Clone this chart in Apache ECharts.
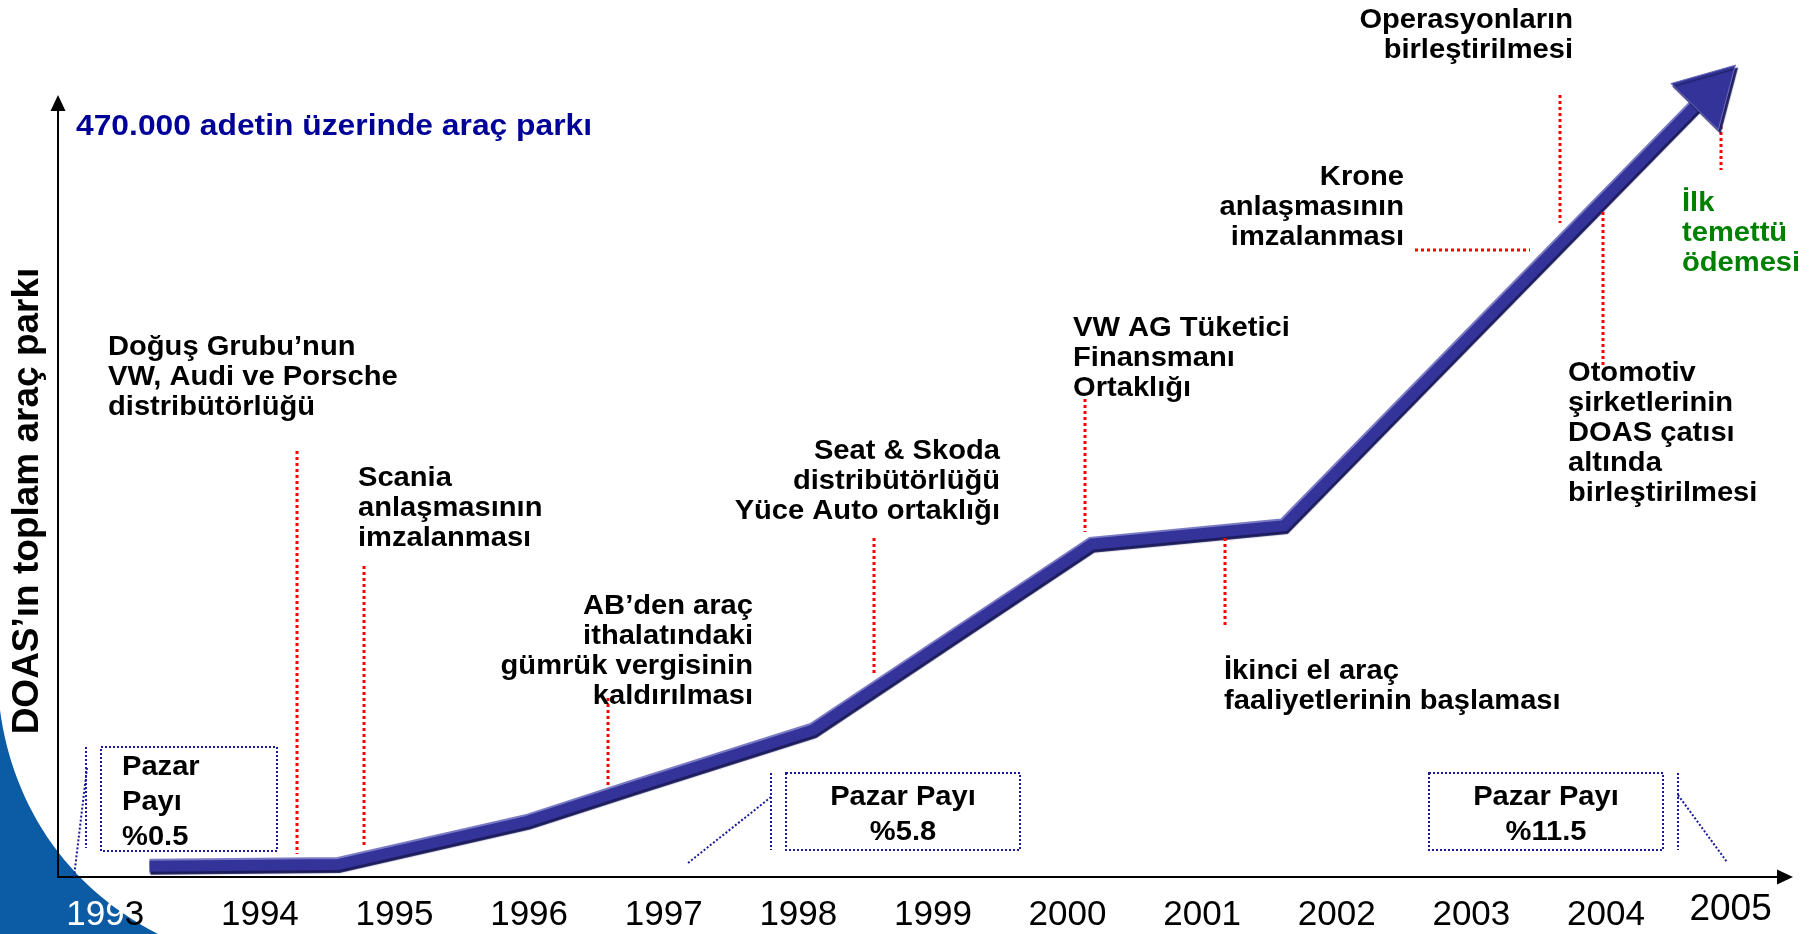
<!DOCTYPE html>
<html>
<head>
<meta charset="utf-8">
<title>DOAS toplam araç parkı</title>
<script src="https://cdn.jsdelivr.net/npm/echarts@6/dist/echarts.min.js"></script>
<style>
    html, body { margin: 0; padding: 0; background: #fff; }
    #chart { width: 1813px; height: 934px; }
</style>
</head>
<body>
<div id="chart"></div>
<script>
/* yıl etiketleri */
var years = [1993, 1994, 1995, 1996, 1997, 1998, 1999, 2000, 2001, 2002, 2003, 2004, 2005];
/* araç parkı eğrisinin kırılma noktaları (yıl, bin adet) */
var fleetYears = [1993.18, 1994.58, 1995.99, 1996.77, 1998.11, 2000.18, 2001.61, 2004.81];
var fleetValues = [7, 8, 36, 58, 95, 215, 227, 511];
/* pazar payları */
var shareLabels = ['%0.5', '%5.8', '%11.5'];

var FONT = '"Liberation Sans", Arial, sans-serif';

var ChartOper = function () {

    var fleetCoords = function () {
        var coords = [];
        for (var i = 0; i < fleetYears.length; i++) {
            coords.push([fleetYears[i], fleetValues[i]]);
        }
        return coords;
    };

    // olay açıklamaları
    var notes = [
        {t: 'Doğuş Grubu’nun\nVW, Audi ve Porsche\ndistribütörlüğü', x: 108, y: 332, a: 'left'},
        {t: 'Scania\nanlaşmasının\nimzalanması', x: 358, y: 463, a: 'left'},
        {t: 'AB’den araç\nithalatındaki\ngümrük vergisinin\nkaldırılması', x: 753, y: 591, a: 'right'},
        {t: 'Seat & Skoda\ndistribütörlüğü\nYüce Auto ortaklığı', x: 1000, y: 436, a: 'right'},
        {t: 'VW AG Tüketici\nFinansmanı\nOrtaklığı', x: 1073, y: 313, a: 'left'},
        {t: 'İkinci el araç\nfaaliyetlerinin başlaması', x: 1224, y: 656, a: 'left'},
        {t: 'Krone\nanlaşmasının\nimzalanması', x: 1404, y: 162, a: 'right'},
        {t: 'Operasyonların\nbirleştirilmesi', x: 1573, y: 5, a: 'right'},
        {t: 'Otomotiv\nşirketlerinin\nDOAS çatısı\naltında\nbirleştirilmesi', x: 1568, y: 358, a: 'left'},
        {t: 'İlk\ntemettü\nödemesi', x: 1682, y: 188, a: 'left', c: '#008000'}
    ];

    // kırmızı noktalı bağlantı çizgileri
    var leaders = [
        [297, 451, 297, 854], [364, 566, 364, 848], [608, 698, 608, 787],
        [874, 538, 874, 675], [1085, 399, 1085, 532], [1225, 538, 1225, 628],
        [1415, 250, 1530, 250], [1560, 95, 1560, 223], [1603, 212, 1603, 367],
        [1721, 108, 1721, 170]
    ];

    // pazar payı kutuları
    var boxes = [[101, 747, 176, 104], [786, 773, 234, 77], [1429, 773, 234, 77]];
    var callouts = [
        [86, 747, 86, 848], [87, 768, 74, 877],
        [771, 773, 771, 850], [771, 797, 688, 863],
        [1678, 773, 1678, 850], [1678, 795, 1727, 862]
    ];
    var shareTexts = [
        {t: 'Pazar\nPayı\n' + shareLabels[0], x: 122, y: 750, a: 'left'},
        {t: 'Pazar Payı\n' + shareLabels[1], x: 903, y: 780, a: 'center'},
        {t: 'Pazar Payı\n' + shareLabels[2], x: 1546, y: 780, a: 'center'}
    ];

    function textEl(n, size, lh) {
        return {
            type: 'text', x: n.x, y: n.y, z: 20, scaleX: 1.04,
            style: {
                text: n.t, fill: n.c || '#000', font: 'bold ' + size + 'px ' + FONT,
                align: n.a, textAlign: n.a, verticalAlign: 'top', textVerticalAlign: 'top',
                lineHeight: lh
            }
        };
    }

    function lineEl(p, color, width, dash) {
        return {
            type: 'line', z: 5,
            shape: {x1: p[0], y1: p[1], x2: p[2], y2: p[3]},
            style: {stroke: color, lineWidth: width, lineDash: dash}
        };
    }

    // sol alttaki mavi yay: kübik bezier eğrisinden poligon
    function swooshPoints() {
        var p0 = [0, 710], c1 = [12, 800], c2 = [62, 885], p3 = [158, 934];
        var pts = [];
        for (var i = 0; i <= 30; i++) {
            var t = i / 30, u = 1 - t;
            pts.push([
                u * u * u * p0[0] + 3 * u * u * t * c1[0] + 3 * u * t * t * c2[0] + t * t * t * p3[0],
                u * u * u * p0[1] + 3 * u * u * t * c1[1] + 3 * u * t * t * c2[1] + t * t * t * p3[1]
            ]);
        }
        pts.push([0, 934]);
        return pts;
    }

    var buildGraphic = function () {
        var els = [];
        els.push({
            type: 'polygon', z: -10,
            shape: {points: swooshPoints()},
            style: {fill: '#0b5ba5'}
        });
        els.push({
            type: 'text', x: 76, y: 127, z: 20, scaleX: 1.06,
            style: {
                text: '470.000 adetin üzerinde araç parkı', fill: '#000099',
                font: 'bold 30px ' + FONT, verticalAlign: 'middle', textVerticalAlign: 'middle',
                shadowColor: 'rgba(0,0,40,0.35)', shadowOffsetX: 1.5, shadowOffsetY: 1.5, shadowBlur: 1
            }
        });
        notes.forEach(function (n) { els.push(textEl(n, 28, 30)); });
        shareTexts.forEach(function (n) { els.push(textEl(n, 28, 35)); });
        leaders.forEach(function (p) { els.push(lineEl(p, '#ff0000', 3, [3, 3])); });
        callouts.forEach(function (p) { els.push(lineEl(p, '#1a1a9a', 2, [2, 2])); });
        boxes.forEach(function (b) {
            els.push({
                type: 'rect', z: 5,
                shape: {x: b[0], y: b[1], width: b[2], height: b[3]},
                style: {fill: 'none', stroke: '#1a1a9a', lineWidth: 2, lineDash: [2, 2]}
            });
        });
        return els;
    };

    var getOption = function () {
        var coords = fleetCoords();
        return {
            animation: false,
            grid: {left: 58, right: 28, top: 103, bottom: 57},
            xAxis: {
                type: 'value', min: 1992.5, max: 2005.33,
                axisLine: {show: true, onZero: false, symbol: ['none', 'triangle'], symbolSize: [15, 16],
                    lineStyle: {color: '#000', width: 2}},
                axisTick: {show: false},
                splitLine: {show: false},
                axisLabel: {
                    customValues: years, margin: 38, verticalAlign: 'middle',
                    color: '#000', fontSize: 35, fontFamily: FONT,
                    formatter: function (v) {
                        if (v === 1993) return '{w|199}{k|3}';
                        if (v === 2005) return '{big|2005}';
                        return String(v);
                    },
                    rich: {
                        w: {color: '#fff', fontSize: 35, fontFamily: FONT},
                        k: {color: '#000', fontSize: 35, fontFamily: FONT, padding: [0, 40, 0, 0]},
                        big: {color: '#000', fontSize: 37, fontFamily: FONT, padding: [0, 20, 10, 0]}
                    }
                }
            },
            yAxis: {
                type: 'value', min: 0, max: 500,
                name: 'DOAS’ın toplam araç parkı', nameLocation: 'middle', nameRotate: 90, nameGap: 12,
                nameTextStyle: {color: '#000', fontSize: 37, fontWeight: 'bold', fontFamily: FONT,
                    padding: [0, 22, 0, 0]},
                axisLine: {show: true, onZero: false, symbol: ['none', 'triangle'], symbolSize: [15, 16],
                    lineStyle: {color: '#000', width: 2}},
                axisTick: {show: false},
                axisLabel: {show: false},
                splitLine: {show: false}
            },
            graphic: {elements: buildGraphic()},
            series: [
                {
                    // şeridin açık renkli üst kenarı
                    type: 'lines', coordinateSystem: 'cartesian2d', polyline: true, clip: false, silent: true,
                    z: 3,
                    lineStyle: {color: '#7b7bc5', width: 15, opacity: 1, join: 'miter'},
                    data: [{coords: coords}]
                },
                {
                    type: 'lines', coordinateSystem: 'cartesian2d', polyline: true, clip: false, silent: true,
                    z: 4,
                    lineStyle: {color: '#333399', width: 11, opacity: 1, join: 'miter',
                        shadowColor: '#1d1d5e', shadowBlur: 1, shadowOffsetX: 1, shadowOffsetY: 3},
                    data: [{coords: coords}]
                },
                {
                    // ok başı
                    id: 'head', type: 'scatter', clip: false, silent: true, z: 5,
                    symbol: 'triangle', symbolSize: [66, 58], symbolRotate: 0,
                    itemStyle: {color: '#333399', opacity: 1, borderColor: '#6a6ab8', borderWidth: 1,
                        shadowColor: '#1d1d5e', shadowBlur: 1, shadowOffsetX: 2, shadowOffsetY: 3},
                    data: [coords[coords.length - 1]]
                }
            ]
        };
    };

    var loadChart = function (selector) {
        var myChart = echarts.init(document.querySelector(selector));
        myChart.setOption(getOption());

        // ok başını son doğru parçasının yönüne çevir
        var coords = fleetCoords();
        var a = myChart.convertToPixel({gridIndex: 0}, coords[coords.length - 2]);
        var b = myChart.convertToPixel({gridIndex: 0}, coords[coords.length - 1]);
        var ang = Math.atan2(b[0] - a[0], a[1] - b[1]) * 180 / Math.PI;
        myChart.setOption({series: [{id: 'head', symbolRotate: -ang}]});
    };

    return {
        loadChart: function (selector) {
            loadChart(selector);
        }
    };
}();

ChartOper.loadChart('#chart');
</script>
</body>
</html>
